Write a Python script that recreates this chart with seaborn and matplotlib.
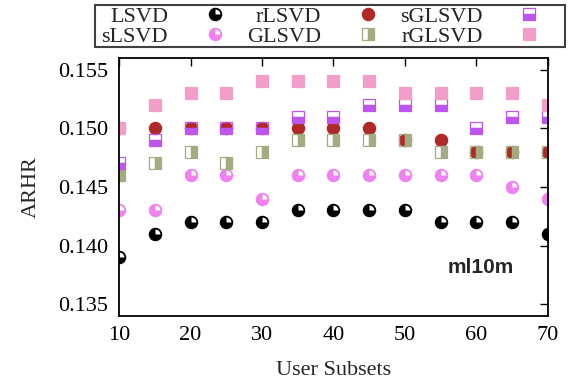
import numpy as np
import pandas as pd
import seaborn as sns
import matplotlib
matplotlib.use("Agg")
import matplotlib.pyplot as plt
from matplotlib.path import Path
from matplotlib.patches import Rectangle
from matplotlib.legend_handler import HandlerTuple

# data
subsets = [10, 15, 20, 25, 30, 35, 40, 45, 50, 55, 60, 65, 70]
lsvd   = [0.139, 0.141, 0.142, 0.142, 0.142, 0.143, 0.143, 0.143, 0.143, 0.142, 0.142, 0.142, 0.141]
slsvd  = [0.143, 0.143, 0.146, 0.146, 0.144, 0.146, 0.146, 0.146, 0.146, 0.146, 0.146, 0.145, 0.144]
rlsvd  = [0.150, 0.150, 0.150, 0.150, 0.150, 0.150, 0.150, 0.150, 0.149, 0.149, 0.148, 0.148, 0.148]
glsvd  = [0.146, 0.147, 0.148, 0.147, 0.148, 0.149, 0.149, 0.149, 0.149, 0.148, 0.148, 0.148, 0.148]
sglsvd = [0.147, 0.149, 0.150, 0.150, 0.150, 0.151, 0.151, 0.152, 0.152, 0.152, 0.150, 0.151, 0.151]
rglsvd = [0.150, 0.152, 0.153, 0.153, 0.154, 0.154, 0.154, 0.154, 0.153, 0.153, 0.153, 0.153, 0.152]

sns.set_style("white")
plt.rcParams['font.family'] = ['Liberation Serif', 'DejaVu Serif']

fig = plt.figure(figsize=(5.73, 3.81), dpi=100)
ax = fig.add_axes([0.208, 0.171, 0.748, 0.677])

quarter = Path.wedge(0, 90)  # white quarter on the circle markers
ms = 8.8

def pts(y, label, color, marker, fill="full", alt="none", quad=False):
    sns.lineplot(x=subsets, y=y, ax=ax, linestyle="", marker=marker, markersize=ms,
                 color=color, markerfacecolor=color, markeredgecolor=color,
                 markeredgewidth=0.9, fillstyle=fill, markerfacecoloralt=alt,
                 label=label, legend=False)
    line = ax.lines[-1]
    if quad:
        sns.lineplot(x=subsets, y=y, ax=ax, linestyle="", marker=quarter, markersize=ms * 0.8,
                     markerfacecolor="white", markeredgewidth=0, legend=False)
        return (line, ax.lines[-1])
    return line

handles = [
    pts(lsvd, "LSVD", "black", "o", quad=True),
    pts(slsvd, "sLSVD", "#ee82ee", "o", quad=True),
    pts(rlsvd, "rLSVD", "#b02828", "o"),
    pts(glsvd, "GLSVD", "#a3ab80", "s", fill="right"),
    pts(sglsvd, "sGLSVD", "#bd55ee", "s", fill="bottom"),
    pts(rglsvd, "rGLSVD", "#f29ec9", "s"),
]
labels = ["LSVD", "sLSVD", "rLSVD", "GLSVD", "sGLSVD", "rGLSVD"]

ax.set_xlim(10, 70)
ax.set_ylim(0.134, 0.156)
ax.set_xticks(range(10, 71, 10))
ax.set_yticks([0.135, 0.140, 0.145, 0.150, 0.155])
ax.yaxis.set_major_formatter(matplotlib.ticker.FormatStrFormatter("%.3f"))
ax.tick_params(direction="in", length=6, width=1, top=True, right=True,
               labelsize=16, colors="black")
ax.tick_params(axis="x", pad=7)
ax.tick_params(axis="y", pad=8)
for s in ax.spines.values():
    s.set_linewidth(1.3)
    s.set_color("black")
    s.set_zorder(5)

ax.set_xlabel("User Subsets", fontsize=16, labelpad=12)
ax.set_ylabel("ARHR", fontsize=16, labelpad=12)

ax.text(60.6, 0.1381, "ml10m", fontsize=15, fontweight="bold",
        family=["Liberation Sans", "DejaVu Sans"], ha="center", va="center")

# legend entries packed inside a hand-drawn box (box is wider than the entries)
leg = ax.legend(handles, labels, ncol=3, markerfirst=False, mode="expand",
                loc="upper left", bbox_to_anchor=(0.175, 0.877, 0.77, 0.11),
                bbox_transform=fig.transFigure, fontsize=16, frameon=False,
                borderpad=0.05, labelspacing=0.0,
                handlelength=1.0, handletextpad=1.6, columnspacing=1.0,
                borderaxespad=0, handler_map={tuple: HandlerTuple(ndivide=1)})
fig.patches.append(Rectangle((95 / 573, 1 - 47 / 381), 470 / 573, 42 / 381,
                             transform=fig.transFigure, fill=False,
                             edgecolor="#404040", linewidth=1.5))

fig.savefig("out.png", dpi=100)
